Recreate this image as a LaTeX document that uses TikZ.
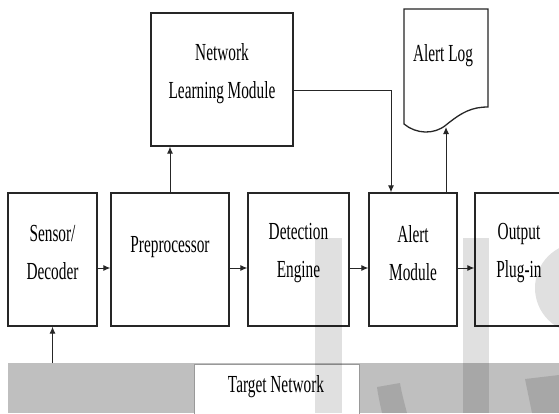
\documentclass[tikz,border=0pt]{standalone}
\usepackage{fontspec}
\setmainfont[FakeStretch=0.625]{Liberation Serif}
\usetikzlibrary{arrows.meta}
\begin{document}
\begin{tikzpicture}[x=1pt,y=-1pt,
  box/.style={draw=black!85,line width=1.3pt,inner sep=0pt,minimum height=133pt},
  lbl/.style={font=\fontsize{24.5}{38}\selectfont,align=center,inner sep=0pt},
  arr/.style={draw=black!85,line width=1pt,-{Latex[length=7pt,width=6pt]}},
  wm/.style={fill=black,opacity=0.12}]
\useasboundingbox (0,0) rectangle (559,413);
\fill[white] (0,0) rectangle (559,413);
% bottom band
\node[fill=black!25,inner sep=0pt,minimum width=551pt,minimum height=50pt,anchor=north west] (band) at (8,363) {};
\node[fill=white,draw=black!40,line width=0.8pt,inner sep=0pt,minimum width=165pt,minimum height=52pt,anchor=north west] (target) at (194,364) {};
\node[lbl] (targett) at (276,387) {Target Network};
% boxes
\node[box,minimum width=89pt] (sensor) at (52.5,259.5) {};
\node[box,minimum width=118pt] (pre) at (170,259.5) {};
\node[box,minimum width=101pt] (det) at (298.5,259.5) {};
\node[box,minimum width=88pt] (alert) at (413,259.5) {};
\node[box,minimum width=88pt] (out) at (519,259.5) {};
\node[box,minimum width=142pt] (nlm) at (222,79.5) {};
% labels
\node[lbl] (sensort) at (52.5,253) {Sensor/\\Decoder};
\node[lbl] (pret) at (170,247) {Preprocessor};
\node[lbl] (dett) at (298.5,253) {Detection\\Engine};
\node[lbl] (alertt) at (413,253) {Alert\\Module};
\node[lbl] (outt) at (519,253) {Output\\Plug-in};
\node[lbl] (nlmt) at (222,73.5) {Network\\Learning Module};
% alert log document
\draw[draw=black!85,line width=1.3pt,fill=white] (404,124) -- (404,9) -- (488,9) -- (488,107)
  .. controls (472,107) and (462,112) .. (446,125)
  .. controls (434,135) and (416,134) .. (404,124) -- cycle;
\node[lbl] (logt) at (443,56) {Alert Log};
\coordinate (logb) at (446,127);
% connectors
\coordinate (ay) at (0,268);
\draw[arr] (sensor.east|-ay) -- (pre.west|-ay);
\draw[arr] (pre.east|-ay) -- (det.west|-ay);
\draw[arr] (det.east|-ay) -- (alert.west|-ay);
\draw[arr] (alert.east|-ay) -- (out.west|-ay);
\draw[arr] (band.north-|sensor.south) -- (sensor.south);
\draw[arr] (pre.north) -- (nlm.south-|pre.north);
\coordinate (k) at (391,90);
\draw[arr] (nlm.east|-k) -- (k) -- (alert.north-|k);
\draw[arr] (alert.north-|logb) -- (logb);
% watermark
\fill[wm] (315,238) rectangle (342,413);
\fill[wm] (463,238) rectangle (489,413);
\fill[wm] (377,387) -- (400,383) .. controls (402,395) and (405,405) .. (407,413) -- (382,413) .. controls (380,404) and (378,395) .. (377,387) -- cycle;
\begin{scope}
\clip (0,0) rectangle (559,413);
\fill[wm] (580,288) circle (45);
\fill[wm] (525,379) -- (559,375) -- (559,413) -- (532,413) -- cycle;
\end{scope}
\end{tikzpicture}
\end{document}
